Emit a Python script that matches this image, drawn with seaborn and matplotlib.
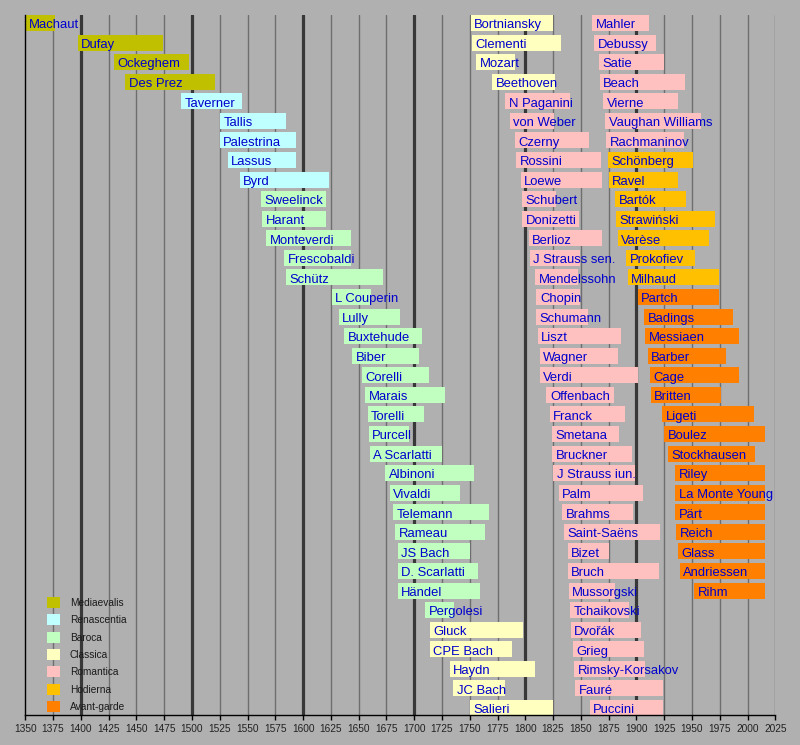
import matplotlib
matplotlib.use("Agg")
import matplotlib.pyplot as plt
from matplotlib.patches import Patch
import seaborn as sns

# composers, one list per column of the timeline (row = position in list)
col1_names = ["Machaut", "Dufay", "Ockeghem", "Des Prez", "Taverner", "Tallis", "Palestrina",
              "Lassus", "Byrd", "Sweelinck", "Harant", "Monteverdi", "Frescobaldi", "Schütz",
              "L Couperin", "Lully", "Buxtehude", "Biber", "Corelli", "Marais", "Torelli",
              "Purcell", "A Scarlatti", "Albinoni", "Vivaldi", "Telemann", "Rameau", "JS Bach",
              "D. Scarlatti", "Händel", "Pergolesi", "Gluck", "CPE Bach", "Haydn", "JC Bach",
              "Salieri"]
col1_start = [1300, 1397, 1430, 1440, 1490, 1525, 1525, 1532, 1543, 1562, 1563, 1567, 1583, 1585,
              1626, 1632, 1637, 1644, 1653, 1656, 1658, 1659, 1660, 1674, 1678, 1681, 1683, 1685,
              1685, 1685, 1710, 1714, 1714, 1732, 1735, 1750]
col1_end = [1377, 1474, 1497, 1521, 1545, 1585, 1594, 1594, 1623, 1621, 1621, 1643, 1643, 1672,
            1661, 1687, 1707, 1704, 1713, 1728, 1709, 1695, 1725, 1754, 1741, 1767, 1764, 1750,
            1757, 1759, 1736, 1798, 1788, 1809, 1782, 1825]
col1_era = ["Mediaevalis"] * 4 + ["Renascentia"] * 5 + ["Baroca"] * 22 + ["Classica"] * 5

col2_names = ["Bortniansky", "Clementi", "Mozart", "Beethoven", "N Paganini", "von Weber", "Czerny",
              "Rossini", "Loewe", "Schubert", "Donizetti", "Berlioz", "J Strauss sen.",
              "Mendelssohn", "Chopin", "Schumann", "Liszt", "Wagner", "Verdi", "Offenbach",
              "Franck", "Smetana", "Bruckner", "J Strauss iun.", "Palm", "Brahms", "Saint-Saëns",
              "Bizet", "Bruch", "Mussorgski", "Tchaikovski", "Dvořák", "Grieg", "Rimsky-Korsakov",
              "Fauré", "Puccini"]
col2_start = [1751, 1752, 1756, 1770, 1782, 1786, 1791, 1792, 1796, 1797, 1797, 1803, 1804, 1809,
              1810, 1810, 1811, 1813, 1813, 1819, 1822, 1824, 1824, 1825, 1830, 1833, 1835, 1838,
              1838, 1839, 1840, 1841, 1843, 1844, 1845, 1858]
col2_end = [1825, 1832, 1791, 1827, 1840, 1826, 1857, 1868, 1869, 1828, 1848, 1869, 1849, 1847,
            1849, 1856, 1886, 1883, 1901, 1880, 1890, 1884, 1896, 1899, 1906, 1897, 1921, 1875,
            1920, 1881, 1893, 1904, 1907, 1908, 1924, 1924]
col2_era = ["Classica"] * 4 + ["Romantica"] * 32

col3_names = ["Mahler", "Debussy", "Satie", "Beach", "Vierne", "Vaughan Williams", "Rachmaninov",
              "Schönberg", "Ravel", "Bartók", "Strawiński", "Varèse", "Prokofiev", "Milhaud",
              "Partch", "Badings", "Messiaen", "Barber", "Cage", "Britten", "Ligeti", "Boulez",
              "Stockhausen", "Riley", "La Monte Young", "Pärt", "Reich", "Glass", "Andriessen",
              "Rihm"]
col3_start = [1860, 1862, 1866, 1867, 1870, 1872, 1873, 1874, 1875, 1881, 1882, 1883, 1891, 1892,
              1901, 1907, 1908, 1910, 1912, 1913, 1923, 1925, 1928, 1935, 1935, 1935, 1936, 1937,
              1939, 1952]
col3_end = [1911, 1918, 1925, 1944, 1937, 1958, 1943, 1951, 1937, 1945, 1971, 1965, 1953, 1974,
            1974, 1987, 1992, 1981, 1992, 1976, 2006, 2016, 2007, 2016, 2016, 2016, 2016, 2016,
            2016, 2016]
col3_era = ["Romantica"] * 7 + ["Hodierna"] * 7 + ["Avant-garde"] * 16

eras = ["Mediaevalis", "Renascentia", "Baroca", "Classica", "Romantica", "Hodierna", "Avant-garde"]
era_colors = ["#c0c000", "#c0ffff", "#c0ffc0", "#ffffc0", "#ffc0c0", "#ffc000", "#ff8000"]

x_min, x_max = 1350, 2025
bg = "#b0b0b0"

sns.set_style("white")
plt.rcParams["font.family"] = ["Liberation Sans", "DejaVu Sans"]

fig = plt.figure(figsize=(8, 7.45), dpi=100, facecolor=bg)
ax = fig.add_axes([25.3 / 800, 30 / 745, 750 / 800, 700 / 745])
ax.set_facecolor(bg)

# grid lines: thin every 25 years, thick every century
for yr in range(x_min + 25, x_max + 1, 25):
    if yr % 100 == 0 and yr <= 1900:
        ax.axvline(yr, color="#383838", lw=2.3, zorder=1)
    else:
        ax.axvline(yr, color="#6e6e6e", lw=1.0, zorder=1)

palette = dict(zip(eras, era_colors))
columns = [(col1_names, col1_start, col1_end, col1_era),
           (col2_names, col2_start, col2_end, col2_era),
           (col3_names, col3_start, col3_end, col3_era)]
for names, starts, ends, era in columns:
    rows = list(range(len(names)))
    widths = [e - s for s, e in zip(starts, ends)]
    ax.barh(rows, widths, left=starts, height=0.818,
            color=[palette[e] for e in era], edgecolor="none", linewidth=0, zorder=2)
    for r, n, s in zip(rows, names, starts):
        ax.annotate(n, (max(s, x_min), r), xytext=(3.5, -5.3), textcoords="offset pixels",
                    ha="left", va="baseline", fontsize=9.4, color="#0000cc", zorder=4)

ax.set_xlim(x_min, x_max)
ax.set_ylim(35.36, -0.409)
ax.set_xticks(range(x_min, x_max + 1, 25))
ax.set_yticks([])
ax.tick_params(axis="x", direction="out", length=3.6, width=1, color="black",
               labelsize=7.3, labelcolor="#222222", pad=3, bottom=True)
for side in ["top", "right"]:
    ax.spines[side].set_visible(False)
for side in ["left", "bottom"]:
    ax.spines[side].set_color("black")
    ax.spines[side].set_linewidth(1)
    ax.spines[side].set_zorder(3)

handles = [Patch(facecolor=c, edgecolor="none", linewidth=0, label=e)
           for e, c in zip(eras, era_colors)]
leg = ax.legend(handles=handles, loc="lower left", bbox_to_anchor=(0.029, 0.0043),
                frameon=False, fontsize=7.3, handlelength=1.3, handleheight=1.3,
                handletextpad=0.93, labelspacing=0.62, borderpad=0, borderaxespad=0)
for t in leg.get_texts():
    t.set_color("#1a1a1a")

fig.savefig("out.png", dpi=100, facecolor=bg)
